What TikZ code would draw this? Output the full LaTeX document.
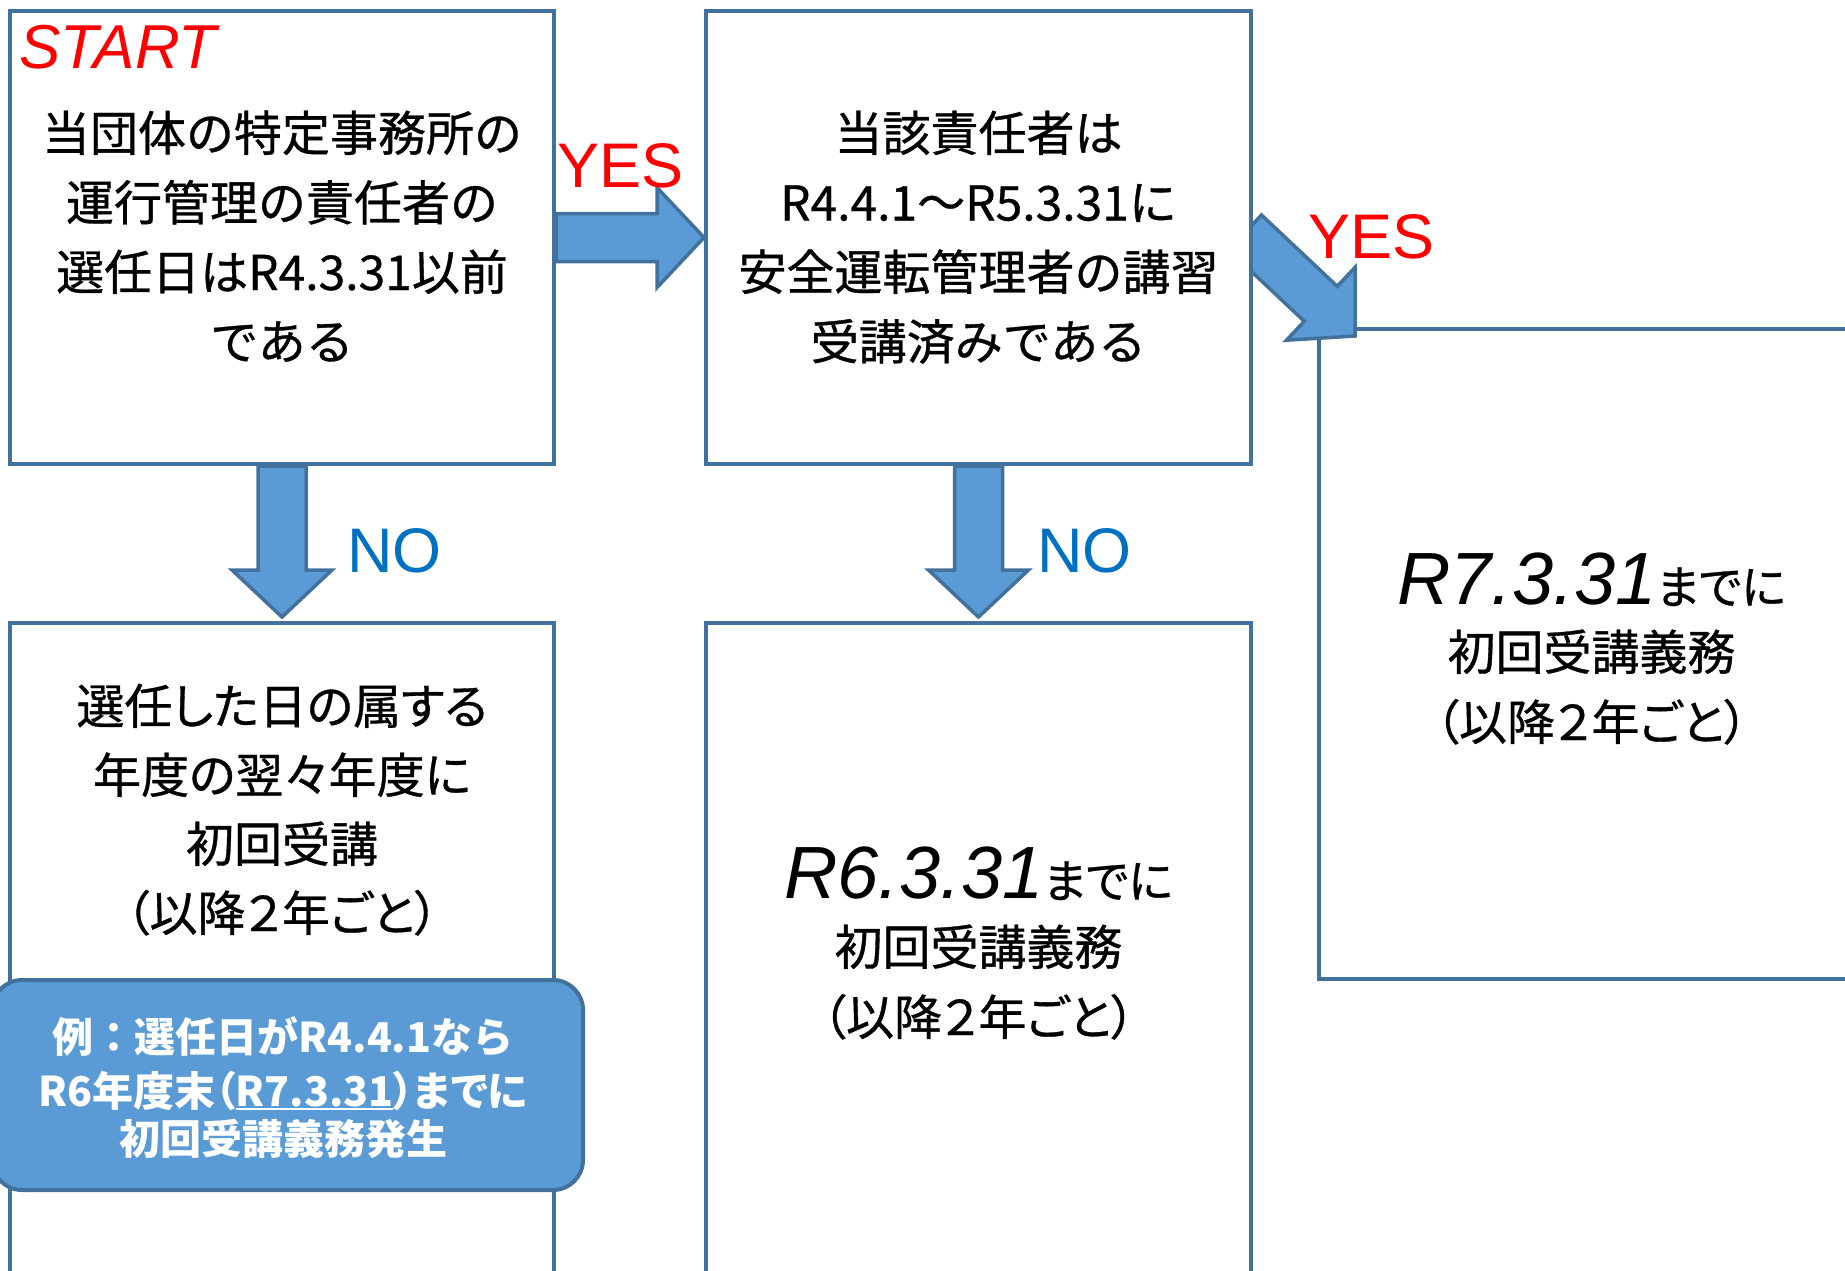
\documentclass[tikz,border=0pt]{standalone}
\usepackage{fontspec}
\usetikzlibrary{calc}
\newfontfamily\jp[FakeBold=0.7]{Noto Sans CJK JP}
\newfontfamily\jpp[RawFeature=+palt,FakeBold=0.7]{Noto Sans CJK JP}
\newfontfamily\jpb{Noto Sans CJK JP}
\newfontfamily\jpbp[RawFeature=+palt]{Noto Sans CJK JP}
\newfontfamily\arl{Liberation Sans}
\definecolor{bordc}{HTML}{41719C}
\definecolor{fillc}{HTML}{5B9BD5}
\definecolor{nob}{HTML}{0070C0}
\pgfdeclarelayer{bglayer}
\pgfdeclarelayer{midlayer}
\pgfsetlayers{bglayer,midlayer,main}
\newcommand\ulw[1]{\sbox0{#1}\rlap{\raisebox{-4pt}{\rule{\wd0}{2pt}}}\usebox0}
\newcommand\blkarrow[3]{%
  \coordinate (#3h) at ($(#2)!47pt!(#1)$);
  \draw[blk] ($(#1)!24pt!90:(#2)$) -- ($(#3h)!24pt!90:(#2)$) -- ($(#3h)!50pt!90:(#2)$) -- (#2)
    -- ($(#3h)!50pt!-90:(#2)$) -- ($(#3h)!24pt!-90:(#2)$) -- ($(#1)!24pt!-90:(#2)$) -- cycle;}
\tikzset{
  box/.style={draw=bordc, line width=4pt, fill=white, inner sep=0pt},
  blk/.style={draw=bordc, line width=3.5pt, fill=fillc, line join=miter},
  ln/.style={anchor=base, inner sep=0pt, font=\jp\fontsize{48}{56}\selectfont},
  lnp/.style={anchor=base, inner sep=0pt, font=\jpp\fontsize{48}{56}\selectfont},
  cl/.style={anchor=base, inner sep=0pt, text=white, font=\jpb\bfseries\fontsize{41}{48}\selectfont},
  lab/.style={anchor=base west, inner sep=0pt, font=\arl\fontsize{63}{70}\selectfont},
}
\begin{document}
\begin{tikzpicture}[x=1pt,y=-1pt]
\useasboundingbox (0,0) rectangle (1845,1270);
\clip (0,0) rectangle (1845,1270);
% boxes
\begin{pgfonlayer}{bglayer}
\node[box, minimum width=545, minimum height=650] (b3) at (1591.5,654) {};
\end{pgfonlayer}
\node[box, minimum width=544, minimum height=453] (b1) at (282,237.5) {};
\node[box, minimum width=545, minimum height=453] (b2) at (978.5,237.5) {};
\node[box, minimum width=544, minimum height=700] (b4) at (282,973) {};
\node[box, minimum width=545, minimum height=700] (b5) at (978.5,973) {};
\node[draw=bordc, line width=4pt, fill=fillc, rounded corners=30pt, inner sep=0pt,
      minimum width=591, minimum height=210] (co) at (287.5,1085) {};
% connector anchors
\coordinate (d1) at ($(b2.east)+(-8,-5)$);
\coordinate (d2) at ($(b3.north west)+(38,9)$);
\coordinate (v1) at ($(b4.north)+(0,-4)$);
\coordinate (v2) at ($(b5.north)+(0,-4)$);
\begin{pgfonlayer}{midlayer}
\blkarrow{b1.east}{b2.west}{ha}
\blkarrow{b1.south}{v1}{va}
\blkarrow{b2.south}{v2}{vb}
\blkarrow{d1}{d2}{da}
\end{pgfonlayer}
% labels
\node[lab, text=red, font=\arl\itshape\fontsize{62}{70}\selectfont] (start) at (19,68) {START};
\node[lab, text=red] (yes1) at (557,187) {YES};
\node[lab, text=red] (yes2) at (1308,258) {YES};
\node[lab, text=nob] (no1) at (347,572) {NO};
\node[lab, text=nob] (no2) at (1037,572) {NO};
% box 1 text
\node[ln] (t11) at (282,151) {当団体の特定事務所の};
\node[ln] (t12) at (282,220.5) {運行管理の責任者の};
\node[ln] (t13) at (282,290) {選任日はR4.3.31以前};
\node[ln] (t14) at (282,359.5) {である};
% box 2 text
\node[ln] (t21) at (978.5,151) {当該責任者は};
\node[ln] (t22) at (978.5,220.5) {R4.4.1～R5.3.31に};
\node[ln] (t23) at (978.5,290) {安全運転管理者の講習};
\node[ln] (t24) at (978.5,359.5) {受講済みである};
% box 3 text
\node[lnp] (t31) at (1591.5,604) {{\arl\itshape\fontsize{74}{80}\selectfont R7.3.31}{\fontsize{46}{50}\selectfont までに}};
\node[lnp] (t32) at (1591.5,670) {初回受講義務};
\node[lnp] (t33) at (1591.5,740) {（以降２年ごと）};
% box 5 text
\node[lnp] (t51) at (978.5,898) {{\arl\itshape\fontsize{74}{80}\selectfont R6.3.31}{\fontsize{46}{50}\selectfont までに}};
\node[lnp] (t52) at (978.5,965) {初回受講義務};
\node[lnp] (t53) at (978.5,1035) {（以降２年ごと）};
% box 4 text
\node[lnp] (t41) at (282,724) {選任した日の属する};
\node[lnp] (t42) at (282,793) {年度の翌々年度に};
\node[lnp] (t43) at (282,862) {初回受講};
\node[lnp] (t44) at (282,931) {（以降２年ごと）};
% callout text
\node[cl] (c1) at (283,1052) {例：選任日がR4.4.1なら};
\node[cl, font=\jpbp\bfseries\fontsize{41}{48}\selectfont] (c2) at (283,1106) {R6年度末（\ulw{R7.3.31}）までに};
\node[cl] (c3) at (283,1154) {初回受講義務発生};
\end{tikzpicture}
\end{document}
